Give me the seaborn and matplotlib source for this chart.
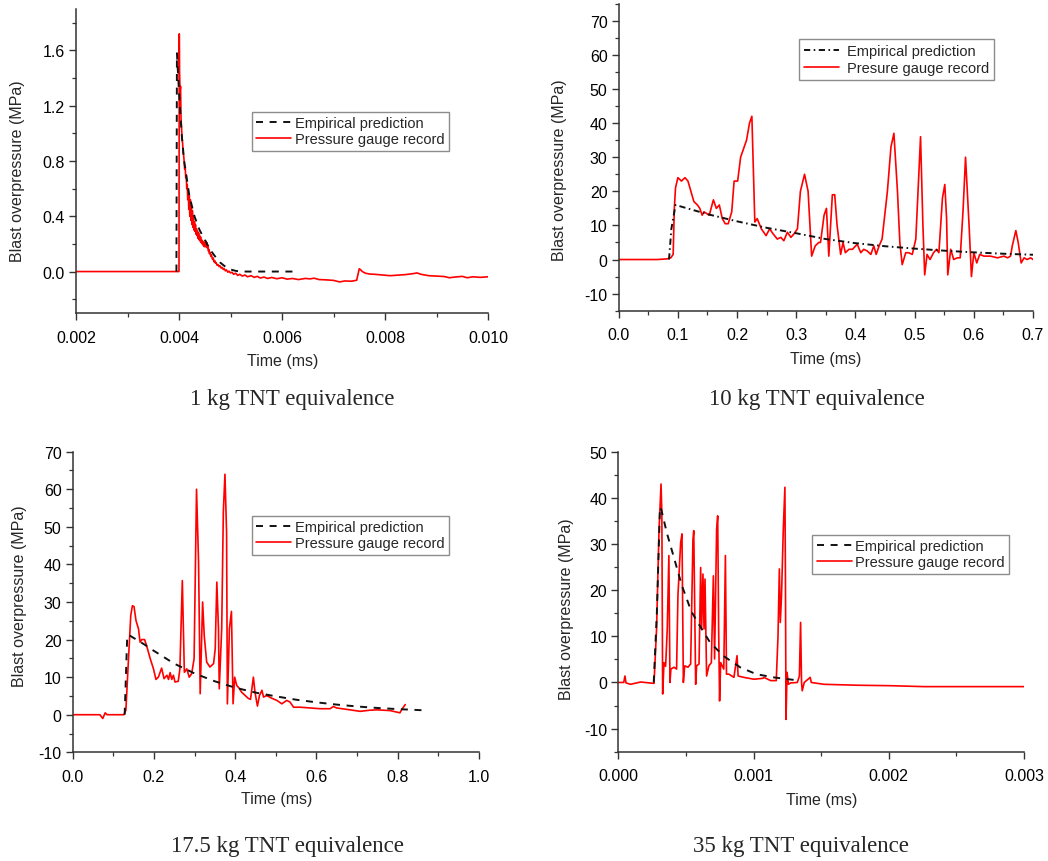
import matplotlib
matplotlib.use("Agg")
import matplotlib.pyplot as plt
from matplotlib.ticker import MultipleLocator, FormatStrFormatter
import seaborn as sns

# ---------------- data (time in ms, overpressure in MPa) ----------------
# 1 kg TNT
t1_emp = [0.00395, 0.00396, 0.00400, 0.00405, 0.00410, 0.00420, 0.00430, 0.00440,
          0.00450, 0.00460, 0.00470, 0.00480, 0.00490, 0.00500, 0.00510, 0.00520, 0.00630]
p1_emp = [0.0, 1.58, 1.30, 1.00, 0.80, 0.55, 0.40, 0.30,
          0.23, 0.16, 0.11, 0.065, 0.035, 0.015, 0.005, 0.0, 0.0]
t1_rec = [0.0020, 0.0030, 0.00399, 0.00400, 0.004005, 0.00401, 0.00402, 0.00403, 0.00404, 0.00405,
          0.00406, 0.00407, 0.00408, 0.00409,
          0.00410, 0.00411, 0.00412, 0.00413, 0.00414, 0.00415, 0.00416, 0.00417, 0.00418, 0.00419,
          0.00420, 0.00421, 0.00422, 0.00423, 0.00424, 0.00425, 0.00426, 0.00427, 0.00428, 0.00429,
          0.00430, 0.00431, 0.00432, 0.00433, 0.00434, 0.00435, 0.00436, 0.00437, 0.00438, 0.00439,
          0.00440, 0.00441, 0.00442, 0.00443, 0.00444, 0.00445, 0.00446, 0.00447, 0.00448, 0.00449,
          0.00450, 0.00451, 0.00452, 0.00453, 0.00454, 0.00455, 0.00456, 0.00457, 0.00458, 0.00459,
          0.00460, 0.00462, 0.00463, 0.00465, 0.00466, 0.00468, 0.00469, 0.00471, 0.00472, 0.00474,
          0.00476, 0.00478, 0.00480, 0.00482, 0.00484, 0.00486, 0.00488, 0.00490, 0.00492, 0.00495,
          0.00497, 0.00500, 0.00503, 0.00506, 0.00510, 0.00514, 0.00518, 0.00523, 0.00528, 0.00533,
          0.00540, 0.00546, 0.00552, 0.00558, 0.00565, 0.00572, 0.00580, 0.00590, 0.00600, 0.00610,
          0.00620, 0.00632, 0.00645, 0.00655, 0.00662, 0.00672, 0.00685, 0.00700, 0.00712, 0.00722,
          0.00735, 0.00745, 0.00750, 0.00752, 0.00756, 0.00762, 0.00770, 0.00780, 0.00795, 0.00810,
          0.00825, 0.00840, 0.00855, 0.00862, 0.00870, 0.00885, 0.00900, 0.00915, 0.00925, 0.00935,
          0.00950, 0.00960, 0.00970, 0.00985, 0.01000]
p1_rec = [0.0, 0.0, 0.0, 0.0, 1.72, 1.45, 1.30, 1.34, 1.10, 1.04,
          0.96, 0.93, 0.86, 0.84,
          0.80, 0.74, 0.76, 0.68, 0.70, 0.60, 0.63, 0.52, 0.58, 0.45,
          0.55, 0.40, 0.52, 0.37, 0.47, 0.34, 0.44, 0.32, 0.40, 0.30,
          0.36, 0.29, 0.34, 0.27, 0.31, 0.26, 0.29, 0.24, 0.28, 0.23,
          0.26, 0.22, 0.25, 0.21, 0.23, 0.20, 0.22, 0.19, 0.21, 0.18,
          0.21, 0.18, 0.22, 0.18, 0.21, 0.17, 0.19, 0.15, 0.16, 0.13,
          0.14, 0.11, 0.12, 0.09, 0.10, 0.07, 0.08, 0.06, 0.065, 0.045,
          0.05, 0.035, 0.04, 0.025, 0.03, 0.015, 0.02, 0.005, 0.012, -0.005,
          0.003, -0.01, -0.005, -0.02, -0.012, -0.028, -0.02, -0.033, -0.025, -0.038,
          -0.03, -0.042, -0.035, -0.047, -0.04, -0.05, -0.043, -0.052, -0.045, -0.055,
          -0.05, -0.058, -0.05, -0.053, -0.048, -0.058, -0.06, -0.064, -0.075, -0.068,
          -0.07, -0.063, 0.02, 0.015, 0.0, -0.012, -0.018, -0.02, -0.025, -0.03,
          -0.026, -0.022, -0.015, -0.01, -0.02, -0.03, -0.033, -0.036, -0.045, -0.04,
          -0.035, -0.045, -0.038, -0.042, -0.038]

# 10 kg TNT
t2_emp = [0.085, 0.089, 0.096, 0.15, 0.20, 0.25, 0.30, 0.35, 0.40, 0.45, 0.50,
          0.55, 0.60, 0.65, 0.70]
p2_emp = [0.0, 9.0, 16.0, 13.3, 11.2, 9.3, 7.7, 6.0, 4.8, 3.9, 3.2,
          2.6, 2.1, 1.7, 1.4]
t2_rec = [0.000, 0.065, 0.082, 0.088, 0.092, 0.094, 0.096, 0.100, 0.106, 0.112, 0.117,
          0.122, 0.127, 0.133, 0.137, 0.141, 0.144, 0.153, 0.160, 0.165, 0.170, 0.175,
          0.180, 0.185, 0.191, 0.195, 0.201, 0.206, 0.212, 0.216, 0.221, 0.225, 0.230,
          0.234, 0.241, 0.249, 0.255, 0.261, 0.268, 0.274, 0.279, 0.285, 0.291, 0.296,
          0.302, 0.307, 0.314, 0.320, 0.326, 0.332, 0.338, 0.341, 0.347, 0.351, 0.355,
          0.361, 0.365, 0.369, 0.375, 0.379, 0.383, 0.389, 0.395, 0.403, 0.409, 0.414,
          0.420, 0.426, 0.431, 0.435, 0.440, 0.445, 0.454, 0.460, 0.465, 0.471, 0.475,
          0.479, 0.485, 0.490, 0.496, 0.502, 0.510, 0.514, 0.517, 0.521, 0.526, 0.532,
          0.537, 0.541, 0.547, 0.551, 0.554, 0.556, 0.561, 0.566, 0.572, 0.577, 0.582,
          0.586, 0.592, 0.596, 0.600, 0.605, 0.610, 0.617, 0.628, 0.640, 0.651, 0.657,
          0.662, 0.665, 0.671, 0.675, 0.680, 0.685, 0.690, 0.696, 0.700]
p2_rec = [0.0, 0.0, 0.2, 0.5, 1.5, 15.0, 21.0, 24.0, 23.0, 24.0, 23.0,
          20.0, 17.0, 16.0, 15.0, 13.0, 14.0, 13.0, 17.5, 15.0, 16.0, 12.0,
          10.5, 10.5, 14.0, 23.0, 23.0, 30.0, 33.0, 35.0, 40.0, 42.0, 11.0,
          12.0, 9.0, 7.0, 9.0, 7.5, 6.0, 6.5, 5.5, 8.0, 6.5, 7.5,
          9.0, 20.0, 25.0, 20.0, 1.0, 4.0, 5.0, 5.0, 13.0, 15.0, 1.0,
          19.0, 19.0, 10.0, 1.5, 5.0, 2.0, 3.0, 3.0, 4.5, 2.0, 3.0,
          2.5, 1.5, 4.0, 1.5, 4.0, 6.0, 20.0, 33.0, 37.0, 20.0, 5.0,
          -1.5, 2.0, 2.0, 1.5, 6.0, 36.0, 10.0, -4.5, 1.5, 0.0, 2.0,
          3.0, 2.0, 18.0, 22.0, 12.0, -4.5, 3.0, 0.0, 0.5, 0.5, 15.0,
          30.0, 10.0, -5.0, 2.0, -1.0, 1.5, 1.0, 1.0, 0.5, 1.0, 0.5,
          1.0, 4.0, 8.5, 5.0, -1.0, 0.5, 0.0, 0.5, 0.0]

# 17.5 kg TNT
t3_emp = [0.128, 0.131, 0.134, 0.137, 0.175, 0.20, 0.25, 0.30, 0.35, 0.40, 0.45,
          0.50, 0.55, 0.60, 0.65, 0.70, 0.75, 0.80, 0.86]
p3_emp = [0.0, 10.0, 20.0, 21.3, 18.8, 17.0, 13.6, 11.0, 8.9, 7.2, 5.9,
          4.9, 4.0, 3.3, 2.7, 2.2, 1.8, 1.5, 1.2]
t3_rec = [0.000, 0.067, 0.074, 0.080, 0.085, 0.126, 0.131, 0.137, 0.143, 0.147, 0.151,
          0.156, 0.162, 0.166, 0.170, 0.177, 0.182, 0.191, 0.199, 0.205, 0.211, 0.219,
          0.225, 0.232, 0.236, 0.240, 0.244, 0.248, 0.252, 0.260, 0.264, 0.270, 0.275,
          0.281, 0.287, 0.293, 0.299, 0.305, 0.310, 0.314, 0.320, 0.324, 0.330, 0.338,
          0.347, 0.351, 0.355, 0.359, 0.361, 0.367, 0.371, 0.375, 0.379, 0.381, 0.386,
          0.391, 0.395, 0.399, 0.404, 0.411, 0.416, 0.425, 0.433, 0.438, 0.445, 0.449,
          0.455, 0.460, 0.466, 0.470, 0.478, 0.490, 0.503, 0.515, 0.527, 0.535, 0.544,
          0.560, 0.585, 0.609, 0.634, 0.642, 0.650, 0.683, 0.708, 0.732, 0.749, 0.782,
          0.806, 0.810, 0.819]
p3_rec = [0.0, 0.0, -1.0, 0.5, 0.0, 0.0, 1.2, 14.0, 26.4, 29.0, 28.8,
          25.0, 22.9, 19.3, 20.0, 20.0, 18.4, 14.9, 12.2, 9.4, 10.0, 12.4,
          9.6, 10.5, 9.4, 11.2, 9.4, 10.5, 8.7, 8.9, 12.2, 35.7, 11.3,
          12.2, 10.0, 10.9, 14.9, 60.0, 40.6, 5.6, 30.0, 21.0, 14.0, 12.7,
          13.6, 17.5, 35.3, 22.9, 6.9, 22.9, 53.9, 64.0, 48.6, 2.9, 22.9,
          27.5, 2.9, 10.0, 7.8, 6.9, 6.0, 5.1, 4.3, 4.1, 10.0, 6.0,
          2.3, 5.1, 6.5, 4.7, 5.1, 4.4, 3.8, 2.9, 3.8, 3.4, 2.0,
          2.0, 1.8, 1.6, 1.6, 2.2, 1.8, 1.3, 0.9, 1.2, 1.3, 1.1,
          0.5, 1.3, 2.7]

# 35 kg TNT
t4_emp = [0.000262, 0.000285, 0.000308, 0.000320, 0.000360, 0.000410, 0.000470,
          0.000540, 0.000600, 0.000680, 0.000780, 0.000900, 0.001020, 0.001150, 0.001340]
p4_emp = [0.0, 15.0, 38.0, 37.2, 32.3, 27.2, 21.0,
          15.4, 12.4, 8.6, 5.7, 3.3, 1.8, 1.1, 0.4]
t4_rec = [0.0, 0.0000400, 0.0000493, 0.0000570, 0.0000900, 0.000165, 0.000264, 0.000283,
          0.000301, 0.000316, 0.000322, 0.000328, 0.000338, 0.000350, 0.000362, 0.000374,
          0.000382, 0.000389, 0.000412, 0.000431, 0.000441, 0.000461, 0.000471, 0.000481,
          0.000491, 0.000515, 0.000535, 0.000552, 0.000558, 0.000572, 0.000579, 0.000597,
          0.000609, 0.000616, 0.000626, 0.000634, 0.000641, 0.000653, 0.000670, 0.000688,
          0.000703, 0.000712, 0.000727, 0.000735, 0.000742, 0.000749, 0.000757, 0.000780,
          0.000792, 0.000800, 0.000818, 0.000855, 0.000878, 0.000886, 0.000929, 0.001003,
          0.001070, 0.001077, 0.001127, 0.001168, 0.001181, 0.001191, 0.001198, 0.001207,
          0.001220, 0.001232, 0.001236, 0.001240, 0.001248, 0.001258, 0.001274, 0.001324,
          0.001339, 0.001348, 0.001355, 0.001360, 0.001375, 0.001419, 0.001427, 0.001521,
          0.001767, 0.002014, 0.002260, 0.002507, 0.003000]
p4_rec = [0.0, 0.0, 1.4, -0.1, -0.4, 0.1, -0.2, 11.6,
          33.0, 43.0, 36.8, -2.5, 4.3, 3.5, 11.6, 27.5,
          0.0, 2.9, 3.3, 2.9, 18.8, 30.3, 32.2, 0.0,
          3.6, 3.3, 4.0, 31.0, 32.9, -0.4, 3.6, 4.0,
          24.9, 11.6, 23.5, 11.6, 22.4, 1.4, 3.6, 4.3,
          23.1, 5.1, 33.2, 36.1, 11.6, -4.0, 4.3, 2.9,
          27.5, 1.8, 1.8, 1.1, 5.8, 1.4, 1.1, 0.7,
          0.9, 1.1, 0.4, 0.4, 10.1, 24.6, 13.0, 18.8,
          33.2, 42.3, 22.4, -8.0, 2.2, -0.4, -0.1, 0.0,
          1.4, 13.0, 0.0, -1.8, 0.0, 1.1, 0.0, -0.4,
          -0.6, -0.7, -0.9, -0.9, -0.9]

captions = ["1 kg TNT equivalence", "10 kg TNT equivalence",
            "17.5 kg TNT equivalence", "35 kg TNT equivalence"]
emp_label = "Empirical prediction"
rec_labels = ["Pressure gauge record", "Presure gauge record",
              "Pressure gauge record", "Pressure gauge record"]

# ---------------- styling ----------------
sns.set_style("ticks")
plt.rcParams["font.family"] = ["Liberation Sans", "DejaVu Sans"]
plt.rcParams["axes.linewidth"] = 1.0

W, H = 1048, 862
fig = plt.figure(figsize=(W / 100, H / 100), dpi=100)


def frac_axes(left, right, top, bottom):
    return fig.add_axes([left / W, 1 - bottom / H, (right - left) / W, (bottom - top) / H])


dashed = (3.6, 3.4)
dash_dot = (3.2, 1.8, 0.8, 1.8)
legend_tight = dict(handletextpad=0.25, labelspacing=0.15, borderpad=0.3)
legend_wide = dict(handletextpad=0.55, labelspacing=0.2, borderpad=0.35)

panels = [
    dict(box=(76, 488, 10, 314), data=(t1_emp, p1_emp, t1_rec, p1_rec),
         xlim=(0.002, 0.010), xmaj=0.002, xmin=0.001, xfmt="%.3f",
         ylim=(-0.3, 1.9), ymaj=0.4, ymin=0.2, yfmt="%.1f",
         dash=dashed, leg=(0.4265, 0.662), legkw=legend_tight,
         ylab=(-0.143, 0.471), xlab=(0.502, -0.157)),
    dict(box=(618.7, 1033, 4.7, 311.7), data=(t2_emp, p2_emp, t2_rec, p2_rec),
         xlim=(0.0, 0.7), xmaj=0.1, xmin=0.05, xfmt="%.1f",
         ylim=(-15, 75), ymaj=10, ymin=5, yfmt="%d",
         dash=dash_dot, leg=(0.435, 0.885), legkw=legend_wide,
         ylab=(-0.144, 0.462), xlab=(0.4996, -0.155)),
    dict(box=(72.7, 478.7, 452.7, 753.3), data=(t3_emp, p3_emp, t3_rec, p3_rec),
         xlim=(0.0, 1.0), xmaj=0.2, xmin=0.1, xfmt="%.1f",
         ylim=(-10, 70), ymaj=10, ymin=5, yfmt="%d",
         dash=dashed, leg=(0.441, 0.787), legkw=legend_tight,
         ylab=(-0.1315, 0.521), xlab=(0.502, -0.155)),
    dict(box=(618.3, 1024, 452.7, 752.7), data=(t4_emp, p4_emp, t4_rec, p4_rec),
         xlim=(0.0, 0.003), xmaj=0.001, xmin=0.0005, xfmt="%.3f",
         ylim=(-15, 50), ymaj=10, ymin=5, yfmt="%d",
         dash=dashed, leg=(0.478, 0.723), legkw=legend_tight,
         ylab=(-0.127, 0.478), xlab=(0.501, -0.161)),
]

caption_pos = [(292, 400), (817, 400), (287, 847), (801, 847)]

for i, pnl in enumerate(panels):
    ax = frac_axes(*pnl["box"])
    te, pe, tr, pr = pnl["data"]
    sns.lineplot(x=tr, y=pr, ax=ax, color="#ff0000", lw=1.2, estimator=None,
                 sort=False, label=rec_labels[i], legend=False, zorder=2)
    sns.lineplot(x=te, y=pe, ax=ax, color="#111111", lw=1.4, estimator=None,
                 sort=False, label=emp_label, legend=False, zorder=3)
    emp_line = ax.lines[-1]
    emp_line.set_dashes(pnl["dash"])
    rec_line = ax.lines[0]

    ax.set_xlim(*pnl["xlim"])
    ax.set_ylim(*pnl["ylim"])
    ax.xaxis.set_major_locator(MultipleLocator(pnl["xmaj"]))
    ax.xaxis.set_minor_locator(MultipleLocator(pnl["xmin"]))
    ax.xaxis.set_major_formatter(FormatStrFormatter(pnl["xfmt"]))
    ax.yaxis.set_major_locator(MultipleLocator(pnl["ymaj"]))
    ax.yaxis.set_minor_locator(MultipleLocator(pnl["ymin"]))
    ax.yaxis.set_major_formatter(FormatStrFormatter(pnl["yfmt"]))

    for sp in ("top", "right"):
        ax.spines[sp].set_visible(False)
    for sp in ("left", "bottom"):
        ax.spines[sp].set_color("#333333")
        ax.spines[sp].set_linewidth(1.1)

    ax.tick_params(axis="both", which="major", direction="out", length=5, width=1.0,
                   labelsize=11.5, color="#333333", labelcolor="black")
    ax.tick_params(axis="both", which="minor", direction="out", length=3, width=0.9,
                   color="#333333")
    ax.tick_params(axis="x", which="major", pad=7)
    ax.tick_params(axis="y", which="major", pad=3)

    ax.set_xlabel("Time (ms)", fontsize=11.5)
    ax.set_ylabel("Blast overpressure (MPa)", fontsize=11.5)
    ax.xaxis.label.set_verticalalignment("center")
    ax.yaxis.label.set_verticalalignment("center")
    ax.xaxis.set_label_coords(*pnl["xlab"])
    ax.yaxis.set_label_coords(*pnl["ylab"])
    ax.grid(False)

    leg = ax.legend([emp_line, rec_line], [emp_label, rec_labels[i]],
                    loc="upper left", bbox_to_anchor=pnl["leg"], borderaxespad=0,
                    fontsize=10.5, frameon=True, fancybox=False, shadow=False,
                    framealpha=1.0, edgecolor="#8c8c8c", handlelength=2.4,
                    **pnl["legkw"])
    leg.get_frame().set_linewidth(1.0)

    cx, cy = caption_pos[i]
    fig.text(cx / W, 1 - cy / H, captions[i], ha="center", va="center",
             fontsize=16.5, family=["Liberation Serif", "DejaVu Serif"])

fig.savefig("out.png", dpi=100)
